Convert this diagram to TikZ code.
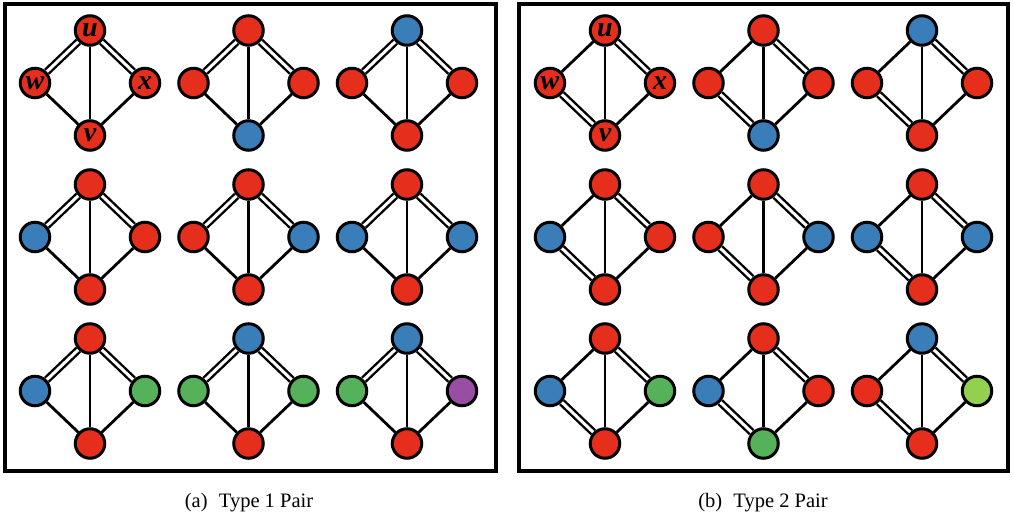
\documentclass[tikz,border=0pt]{standalone}
\usepackage{fontspec}
\setmainfont{Liberation Serif}
\usetikzlibrary{backgrounds}

\definecolor{nodered}{HTML}{E62E1C}
\definecolor{nodeblue}{HTML}{3A7EB9}
\definecolor{nodegreen}{HTML}{55B25A}
\definecolor{nodepurple}{HTML}{984EA3}
\definecolor{nodelime}{HTML}{92D050}

\tikzset{
  vtx/.style={circle, draw=black, line width=3pt, minimum size=29.5pt, inner sep=0pt,
    font=\fontsize{28}{28}\selectfont\bfseries\itshape},
  sedge/.style={line width=2.8pt},
  dedge/.style={line width=2.4pt, double=white, double distance=3pt},
  panel/.style={line width=4.5pt},
  caption/.style={anchor=base, font=\fontsize{20.5}{21}\selectfont},
}

\begin{document}
\begin{tikzpicture}[x=1pt,y=-1pt]
  \useasboundingbox (0,0) rectangle (1013,518);

  \draw[panel] (5,4) rectangle (496,471);
  \draw[panel] (519,4) rectangle (1008,471);

  % (a) type 1 pair
  \foreach \n/\cx/\cy/\ct/\cl/\cr/\cb/\lab in {
      a1/90/83/nodered/nodered/nodered/nodered/1,
      a2/248.5/83/nodered/nodered/nodered/nodeblue/0,
      a3/407/83/nodeblue/nodered/nodered/nodered/0,
      a4/90/237/nodered/nodeblue/nodered/nodered/0,
      a5/248.5/237/nodered/nodered/nodeblue/nodered/0,
      a6/407/237/nodered/nodeblue/nodeblue/nodered/0,
      a7/90/391/nodered/nodeblue/nodegreen/nodered/0,
      a8/248.5/391/nodeblue/nodegreen/nodegreen/nodered/0,
      a9/407/391/nodeblue/nodegreen/nodepurple/nodered/0}
  {
    \node[vtx, fill=\ct] (\n-u) at (\cx,\cy-52.5) {\ifnum\lab=1 u\fi};
    \node[vtx, fill=\cl] (\n-w) at (\cx-55,\cy) {\ifnum\lab=1 w\fi};
    \node[vtx, fill=\cr] (\n-x) at (\cx+55,\cy) {\ifnum\lab=1 x\fi};
    \node[vtx, fill=\cb] (\n-v) at (\cx,\cy+52.5) {\ifnum\lab=1 v\fi};
    \begin{scope}[on background layer]
      \draw[dedge] (\n-u) -- (\n-w);
      \draw[dedge] (\n-u) -- (\n-x);
      \draw[sedge] (\n-u) -- (\n-v);
      \draw[sedge] (\n-w) -- (\n-v);
      \draw[sedge] (\n-x) -- (\n-v);
    \end{scope}
  }

  % (b) type 2 pair
  \foreach \n/\cx/\cy/\ct/\cl/\cr/\cb/\lab in {
      b1/605/83/nodered/nodered/nodered/nodered/1,
      b2/763.5/83/nodered/nodered/nodered/nodeblue/0,
      b3/922/83/nodeblue/nodered/nodered/nodered/0,
      b4/605/237/nodered/nodeblue/nodered/nodered/0,
      b5/763.5/237/nodered/nodered/nodeblue/nodered/0,
      b6/922/237/nodered/nodeblue/nodeblue/nodered/0,
      b7/605/391/nodered/nodeblue/nodegreen/nodered/0,
      b8/763.5/391/nodered/nodeblue/nodered/nodegreen/0,
      b9/922/391/nodeblue/nodered/nodelime/nodered/0}
  {
    \node[vtx, fill=\ct] (\n-u) at (\cx,\cy-52.5) {\ifnum\lab=1 u\fi};
    \node[vtx, fill=\cl] (\n-w) at (\cx-55,\cy) {\ifnum\lab=1 w\fi};
    \node[vtx, fill=\cr] (\n-x) at (\cx+55,\cy) {\ifnum\lab=1 x\fi};
    \node[vtx, fill=\cb] (\n-v) at (\cx,\cy+52.5) {\ifnum\lab=1 v\fi};
    \begin{scope}[on background layer]
      \draw[sedge] (\n-u) -- (\n-w);
      \draw[dedge] (\n-u) -- (\n-x);
      \draw[sedge] (\n-u) -- (\n-v);
      \draw[dedge] (\n-w) -- (\n-v);
      \draw[sedge] (\n-x) -- (\n-v);
    \end{scope}
  }

  \node[caption] (capa) at (249,508) {(a)\hspace{0.55em}Type 1 Pair};
  \node[caption] (capb) at (763,508) {(b)\hspace{0.55em}Type 2 Pair};
\end{tikzpicture}
\end{document}
